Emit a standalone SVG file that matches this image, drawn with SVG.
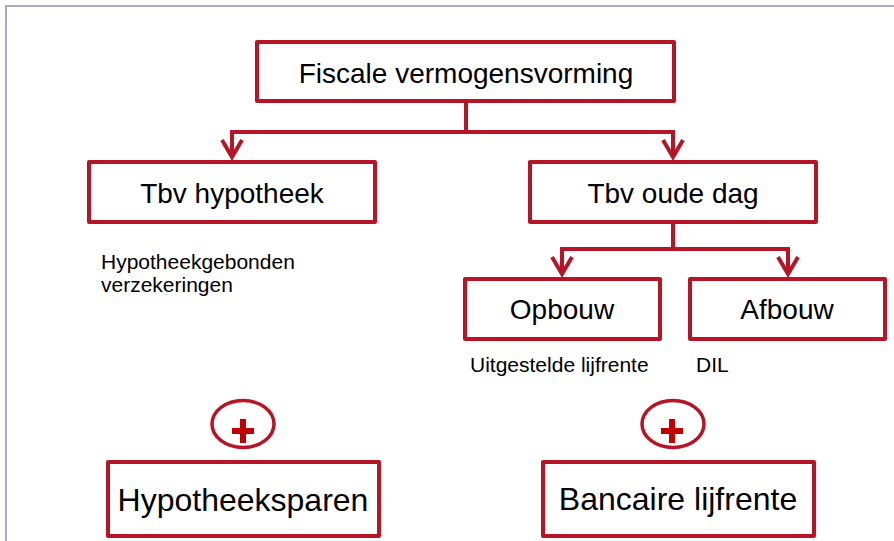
<svg xmlns="http://www.w3.org/2000/svg" width="894" height="541" viewBox="0 0 894 541">
<style>
.box{fill:#fff;stroke:#b71426;stroke-width:4;stroke-linejoin:round}
.lbl{font-family:"Liberation Sans",Arial,sans-serif;font-size:28px;fill:#000;text-anchor:middle}
.big{font-size:32px}
.sm{font-family:"Liberation Sans",Arial,sans-serif;font-size:21px;fill:#000}
.con{fill:none;stroke:#b71426;stroke-width:4;stroke-linejoin:miter}
.plus{fill:#c00000}
.ell{fill:none;stroke:#b71426;stroke-width:3.5}
</style>
<rect x="0" y="0" width="894" height="541" fill="#fff"/>
<path d="M6,541 V6 H894" fill="none" stroke="#aaaac6" stroke-width="2"/>
<g id="connectors" class="con">
<path d="M466,103 V132 M230,132 H675 M232,132 V157 M673,132 V157"/>
<polyline points="222,140 232,157 242,140"/>
<polyline points="663,140 673,157 683,140"/>
<path d="M673,224 V249 M560,249 H790 M562,249 V274 M788,249 V274"/>
<polyline points="552,257 562,274 572,257"/>
<polyline points="778,257 788,274 798,257"/>
</g>
<g id="n-fiscale"><rect class="box" x="257" y="42" width="417" height="59"/><text class="lbl" x="466" y="83">Fiscale vermogensvorming</text></g>
<g id="n-hypotheek"><rect class="box" x="89" y="162" width="286" height="60"/><text class="lbl" x="232" y="203">Tbv hypotheek</text></g>
<g id="n-oudedag"><rect class="box" x="530" y="162" width="286" height="60"/><text class="lbl" x="673" y="203">Tbv oude dag</text></g>
<g id="n-opbouw"><rect class="box" x="465" y="279" width="195" height="60"/><text class="lbl" x="562" y="319">Opbouw</text></g>
<g id="n-afbouw"><rect class="box" x="690" y="279" width="195" height="60"/><text class="lbl" x="787" y="319">Afbouw</text></g>
<g id="t-hypgeb"><text class="sm" x="101" y="269">Hypotheekgebonden</text><text class="sm" x="101" y="292">verzekeringen</text></g>
<g id="t-uitgesteld"><text class="sm" x="470" y="372">Uitgestelde lijfrente</text></g>
<g id="t-dil"><text class="sm" x="696" y="372">DIL</text></g>
<g id="plus-left"><ellipse class="ell" cx="243" cy="424" rx="31" ry="23.5"/><rect class="plus" x="232" y="428" width="22" height="6"/><rect class="plus" x="240" y="419" width="6" height="24"/></g>
<g id="plus-right"><ellipse class="ell" cx="673" cy="424" rx="31" ry="23.5"/><rect class="plus" x="661" y="428" width="22" height="6"/><rect class="plus" x="669" y="419" width="6" height="24"/></g>
<g id="n-hypsparen"><rect class="box" x="108" y="462" width="271" height="74"/><text class="lbl big" x="243" y="511">Hypotheeksparen</text></g>
<g id="n-bancaire"><rect class="box" x="543" y="462" width="271" height="74"/><text class="lbl big" x="678" y="510">Bancaire lijfrente</text></g>
</svg>
